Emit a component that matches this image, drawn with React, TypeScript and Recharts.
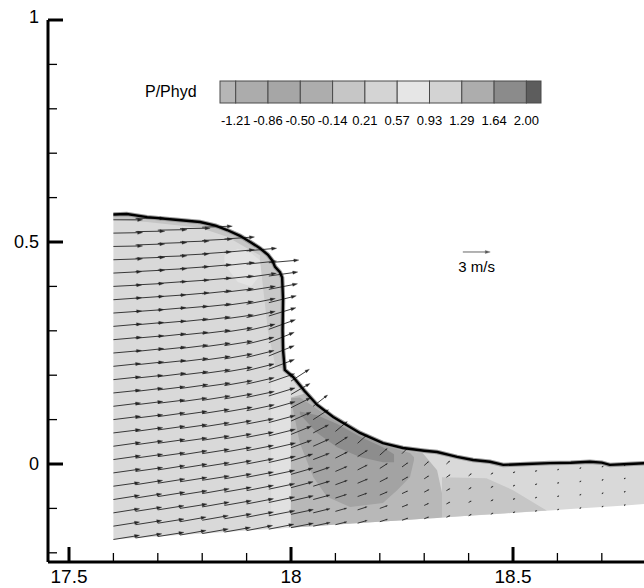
import React from 'react';
import { ComposedChart, Area, Line, XAxis, YAxis, ReferenceLine } from 'recharts';

const W = 644;
const H = 588;
const FONT = 'Liberation Sans, Arial, Helvetica, sans-serif';

// ---------- axes ----------
const X_DOMAIN: [number, number] = [17.4527, 18.795];
const Y_DOMAIN: [number, number] = [-0.2207, 1.0];
const X_TICKS = [17.5, 17.6, 17.7, 17.8, 17.9, 18.0, 18.1, 18.2, 18.3, 18.4, 18.5, 18.6, 18.7];
const Y_TICKS = [-0.2, -0.1, 0, 0.1, 0.2, 0.3, 0.4, 0.5, 0.6, 0.7, 0.8, 0.9, 1.0];

// ---------- legend (P/Phyd levels) ----------
const LEGEND_TITLE = 'P/Phyd';
const LEVELS = ['-1.21', '-0.86', '-0.50', '-0.14', '0.21', '0.57', '0.93', '1.29', '1.64', '2.00'];
const LEVEL_COLORS = ['#b6b6b6', '#acacac', '#a6a6a6', '#adadad', '#c6c6c6', '#d4d4d4', '#e6e6e6', '#d3d3d3', '#adadad', '#8b8b8b', '#5d5d5d'];

// ---------- geometry ----------
const BED = [[17.6, -0.17], [18.8, -0.09]];
const SURFACE = [
  [17.6, 0.562], [17.63, 0.563], [17.676, 0.556], [17.74, 0.55], [17.795, 0.545], [17.83, 0.537],
  [17.856, 0.527], [17.885, 0.514], [17.908, 0.5], [17.93, 0.486], [17.948, 0.471], [17.958, 0.458],
  [17.964, 0.444], [17.975, 0.432], [17.98, 0.42], [17.982, 0.37], [17.981, 0.3], [17.982, 0.257],
  [17.986, 0.212], [18.005, 0.196], [18.03, 0.165], [18.059, 0.133], [18.095, 0.106], [18.155, 0.07],
  [18.207, 0.047], [18.252, 0.036], [18.3, 0.03], [18.329, 0.027], [18.358, 0.02], [18.374, 0.016],
  [18.41, 0.009], [18.448, 0.005], [18.478, -0.002], [18.53, 0.0], [18.583, 0.002], [18.63, 0.003],
  [18.673, 0.005], [18.7, 0.003], [18.718, -0.002], [18.76, 0.0], [18.8, 0.002],
];

// contour bands: [x, lower, upper]
const LIGHT_STRIP = [[17.955, -0.1463, 0.19], [17.998, -0.1435, 0.2]];
const LIGHT_PATCH = [[17.85, 0.45, 0.47], [17.88, 0.41, 0.485], [17.91, 0.4, 0.475], [17.935, 0.43, 0.455]];
const TOP_BAND = [[17.6, 0.55, 0.562], [17.676, 0.545, 0.556], [17.795, 0.532, 0.545], [17.856, 0.512, 0.527], [17.908, 0.482, 0.5], [17.93, 0.47, 0.486]];
const WALL_BAND = [[17.93, 0.46, 0.486], [17.948, 0.3, 0.471], [17.965, 0.22, 0.444], [17.98, 0.215, 0.42]];
const MID_ZONE = [
  [18.0, -0.1433, 0.15], [18.03, -0.1413, 0.158], [18.059, -0.1394, 0.127], [18.095, -0.137, 0.1],
  [18.155, -0.133, 0.065], [18.207, -0.1295, 0.042], [18.252, -0.1265, 0.031], [18.297, -0.1235, 0.024],
  [18.329, -0.1214, -0.014], [18.34, -0.1207, -0.065],
];
const LOWER_RIGHT = [[18.34, -0.1207, -0.03], [18.44, -0.114, -0.032], [18.5, -0.11, -0.059], [18.576, -0.1049, -0.1049]];
const DARK_ZONE = [
  [18.0, 0.145, 0.148], [18.02, 0.047, 0.15], [18.05, -0.029, 0.13], [18.081, -0.074, 0.108],
  [18.133, -0.097, 0.077], [18.207, -0.088, 0.042], [18.239, -0.059, 0.033], [18.268, -0.029, 0.025],
  [18.277, 0.009, 0.015],
];
const DARKEST_BAND = [[18.02, 0.112, 0.118], [18.059, 0.07, 0.11], [18.104, 0.038, 0.09], [18.155, 0.016, 0.062], [18.207, 0.004, 0.038], [18.232, 0.004, 0.022]];

// ---------- velocity field (mesh columns, rows parallel to the bed) ----------
const ROW_DY = 0.03;
const VEC_SCALE = 0.0206; // data units per m/s
const COLS_X = [17.6, 17.65, 17.7, 17.75, 17.8, 17.85, 17.9, 17.95, 18.0, 18.05, 18.1, 18.15, 18.2, 18.25, 18.3, 18.35, 18.4, 18.45, 18.5, 18.55, 18.6, 18.65, 18.7, 18.75];
const SPEED = [
  [2.9, 2.9, 2.9, 2.9, 2.9, 3.0, 3.0, 3.0, 3.0, 3.0, 3.0, 3.0, 3.0, 3.0, 3.1, 3.1, 3.1, 3.1, 3.1, 3.1, 3.1, 3.2, 3.2, 3.2, 3.2],
  [2.9, 2.9, 2.9, 2.9, 3.0, 3.0, 3.0, 3.0, 3.0, 3.0, 3.0, 3.0, 3.0, 3.1, 3.1, 3.1, 3.1, 3.1, 3.1, 3.1, 3.2, 3.2, 3.2, 3.2, 3.2],
  [2.9, 2.9, 2.9, 3.0, 3.0, 3.0, 3.0, 3.0, 3.0, 3.0, 3.0, 3.0, 3.1, 3.1, 3.1, 3.1, 3.1, 3.1, 3.1, 3.2, 3.2, 3.2, 3.2, 3.2],
  [2.9, 2.9, 3.0, 3.0, 3.0, 3.0, 3.0, 3.0, 3.0, 3.0, 3.0, 3.1, 3.1, 3.1, 3.1, 3.1, 3.1, 3.1, 3.2, 3.2, 3.2, 3.2, 3.2, 3.3],
  [2.9, 2.9, 3.0, 3.0, 3.0, 3.0, 3.0, 3.0, 3.0, 3.0, 3.1, 3.1, 3.1, 3.1, 3.1, 3.1, 3.1, 3.2, 3.2, 3.2, 3.2, 3.2, 3.3, 3.3],
  [2.9, 3.0, 3.0, 3.0, 3.0, 3.0, 3.0, 3.0, 3.0, 3.1, 3.1, 3.1, 3.1, 3.1, 3.1, 3.1, 3.2, 3.2, 3.2, 3.2, 3.3, 3.3, 3.3],
  [2.9, 3.0, 3.0, 3.0, 3.0, 3.0, 3.0, 3.0, 3.0, 3.1, 3.1, 3.1, 3.1, 3.1, 3.1, 3.2, 3.2, 3.2, 3.2, 3.3, 3.3, 3.3],
  [2.8, 2.9, 2.9, 2.9, 2.9, 3.0, 3.0, 3.0, 3.0, 3.0, 3.0, 3.0, 3.0, 3.0, 3.0, 3.1, 3.1, 3.1, 3.2, 3.2, 3.3],
  [2.5, 2.5, 2.5, 2.5, 2.5, 2.5, 2.4, 2.4, 2.4, 2.4, 2.4, 2.4],
  [1.9, 1.9, 1.9, 1.9, 1.9, 1.9, 1.9, 1.9, 2.0, 2.0],
  [1.3, 1.3, 1.3, 1.4, 1.4, 1.5, 1.6, 1.7],
  [1.1, 1.1, 1.1, 1.2, 1.2, 1.3, 1.4],
  [0.9, 0.9, 0.9, 1.0, 1.0, 1.1],
  [0.7, 0.7, 0.7, 0.75, 0.8, 0.85],
  [0.55, 0.55, 0.6, 0.6, 0.65],
  [0.45, 0.45, 0.45, 0.5, 0.5],
  [0.35, 0.35, 0.35, 0.4],
  [0.3, 0.3, 0.3, 0.3],
  [0.25, 0.25, 0.25, 0.25],
  [0.22, 0.22, 0.22, 0.22],
  [0.2, 0.2, 0.2, 0.2],
  [0.2, 0.2, 0.2, 0.2],
  [0.2, 0.2, 0.2, 0.2],
  [0.2, 0.2, 0.2, 0.2],
];
const ANGLE = [
  [9, 9, 9, 9, 8, 8, 8, 8, 7, 7, 7, 6, 6, 6, 5, 5, 5, 4, 4, 3, 3, 2, 1, 1, 0],
  [9, 9, 9, 9, 9, 8, 8, 8, 8, 7, 7, 7, 6, 6, 6, 5, 5, 4, 4, 3, 3, 2, 2, 1, 0],
  [9, 9, 9, 9, 9, 9, 8, 8, 8, 8, 7, 7, 7, 6, 6, 6, 5, 5, 4, 4, 3, 2, 2, 1],
  [10, 10, 9, 9, 9, 9, 9, 8, 8, 8, 8, 8, 7, 7, 7, 6, 6, 5, 5, 4, 4, 3, 2, 1],
  [10, 10, 10, 10, 9, 9, 9, 9, 9, 9, 9, 8, 8, 8, 8, 7, 7, 6, 6, 5, 5, 4, 3, 2],
  [10, 10, 10, 10, 10, 10, 10, 10, 10, 10, 10, 10, 10, 10, 9, 9, 8, 8, 7, 6, 6, 5, 4],
  [11, 11, 11, 11, 11, 11, 11, 11, 11, 12, 12, 13, 14, 14, 14, 13, 12, 11, 9, 8, 6, 5],
  [11, 11, 12, 12, 12, 13, 13, 14, 15, 16, 17, 19, 21, 22, 22, 20, 17, 14, 11, 8, 5],
  [11, 12, 13, 15, 16, 18, 20, 22, 24, 27, 30, 33],
  [12, 14, 15, 17, 19, 21, 24, 28, 33, 38],
  [14, 16, 18, 20, 23, 27, 33, 40],
  [16, 18, 20, 23, 27, 33, 42],
  [18, 20, 23, 27, 33, 42],
  [20, 22, 25, 30, 36, 45],
  [22, 25, 28, 33, 42],
  [25, 28, 30, 35, 42],
  [28, 30, 33, 38],
  [30, 30, 33, 35],
  [30, 30, 30, 30],
  [28, 28, 28, 28],
  [25, 25, 25, 25],
  [25, 25, 25, 25],
  [25, 25, 25, 25],
  [25, 25, 25, 25],
];
const REF_VECTOR = { x: 18.387, y: 0.4775, speed: 3, label: '3 m/s' };

// ---------- derived data ----------
const bedAt = (x: number) => BED[0][1] + ((BED[1][1] - BED[0][1]) * (x - BED[0][0])) / (BED[1][0] - BED[0][0]);
const surfaceData = SURFACE.map(([x, y]) => ({ x, y }));
const waterData = SURFACE.map(([x, y]) => ({ x, r: [bedAt(x), y] }));
const band = (rows: number[][]) => rows.map(([x, lo, hi]) => ({ x, r: [lo, hi] }));

const REGIONS = [
  { id: 'water', data: waterData, color: '#d9d9d9' },
  { id: 'lstrip', data: band(LIGHT_STRIP), color: '#e1e1e1' },
  { id: 'lpatch', data: band(LIGHT_PATCH), color: '#e3e3e3' },
  { id: 'top', data: band(TOP_BAND), color: '#c5c5c5' },
  { id: 'wall', data: band(WALL_BAND), color: '#c9c9c9' },
  { id: 'mid', data: band(MID_ZONE), color: '#b8b8b8' },
  { id: 'lowr', data: band(LOWER_RIGHT), color: '#c6c6c6' },
  { id: 'dark', data: band(DARK_ZONE), color: '#a3a3a3' },
  { id: 'darkest', data: band(DARKEST_BAND), color: '#8d8d8d' },
];

type Vec = { x0: number; y0: number; x1: number; y1: number };
const VECTORS: Vec[] = [];
COLS_X.forEach((x0, j) => {
  SPEED[j].forEach((s, k) => {
    const a = (ANGLE[j][k] * Math.PI) / 180;
    const y0 = bedAt(x0) + k * ROW_DY;
    VECTORS.push({ x0, y0, x1: x0 + s * Math.cos(a) * VEC_SCALE, y1: y0 + s * Math.sin(a) * VEC_SCALE });
  });
});

// ---------- renderers ----------
const fmt = (v: number) => String(Number(v.toFixed(2)));
const isMajor = (v: number) => Math.abs(v * 2 - Math.round(v * 2)) < 1e-6;

function XTick(props: any) {
  const { x, y, payload } = props;
  const v = payload.value;
  const major = isMajor(v);
  return (
    <g>
      <line x1={x} x2={x} y1={y} y2={y - (major ? 15 : 9)} stroke="#000" strokeWidth={major ? 3 : 1.3} />
      {major && (
        <text x={x} y={y + 21} textAnchor="middle" fontSize={19} fill="#000" fontFamily={FONT}>
          {fmt(v)}
        </text>
      )}
    </g>
  );
}

function YTick(props: any) {
  const { x, y, payload } = props;
  const v = payload.value;
  const major = isMajor(v);
  return (
    <g>
      <line x1={x} x2={x + (major ? 15 : 9)} y1={y} y2={y} stroke="#000" strokeWidth={major ? 3 : 1.3} />
      {major && (
        <text x={x - 9} y={v >= 1 ? y + 3 : y + 6} textAnchor="end" fontSize={18} fill="#000" fontFamily={FONT}>
          {fmt(v)}
        </text>
      )}
    </g>
  );
}

function arrowPath(x1: number, y1: number, x2: number, y2: number, color: string) {
  const dx = x2 - x1;
  const dy = y2 - y1;
  const len = Math.hypot(dx, dy);
  if (!isFinite(len) || len < 0.05) return <g />;
  const ux = dx / len;
  const uy = dy / len;
  const h = Math.max(1.3, Math.min(5, 0.2 * len));
  const w = h * 0.32;
  const bx = x2 - ux * h;
  const by = y2 - uy * h;
  const pts = `${x2},${y2} ${bx - uy * w},${by + ux * w} ${bx + uy * w},${by - ux * w}`;
  return (
    <g>
      <line x1={x1} y1={y1} x2={bx + ux * 0.5} y2={by + uy * 0.5} stroke={color} strokeWidth={0.9} />
      <polygon points={pts} fill={color} stroke={color} strokeWidth={0.3} />
    </g>
  );
}

const ArrowShape = (p: any) => arrowPath(p.x1, p.y1, p.x2, p.y2, '#262626');
const RefArrowShape = (p: any) => (
  <g>
    {arrowPath(p.x1, p.y1, p.x2, p.y2, '#555')}
    <text x={(p.x1 + p.x2) / 2} y={p.y1 + 20} textAnchor="middle" fontSize={15} fill="#000" fontFamily={FONT}>
      {REF_VECTOR.label}
    </text>
  </g>
);

function LegendBar() {
  const first = 220;
  const b0 = 235.7;
  const step = 32.3;
  const edges = [first, ...LEVELS.map((_, i) => b0 + step * i), 541];
  return (
    <svg width={W} height={H} style={{ position: 'absolute', left: 0, top: 0, pointerEvents: 'none' }}>
      <text x={145} y={97} fontSize={16} fill="#000" fontFamily={FONT}>
        {LEGEND_TITLE}
      </text>
      {LEVEL_COLORS.map((c, i) => (
        <rect key={i} x={edges[i]} y={81} width={edges[i + 1] - edges[i]} height={22} fill={c} stroke="#4a4a4a" strokeWidth={1} />
      ))}
      {LEVELS.map((l, i) => (
        <text key={l} x={b0 + step * i} y={125} textAnchor="middle" fontSize={13} fill="#000" fontFamily={FONT}>
          {l}
        </text>
      ))}
    </svg>
  );
}

export default function App() {
  return (
    <div style={{ position: 'absolute', left: 0, top: 0, width: W, height: H, background: '#fff', overflow: 'hidden' }}>
      <ComposedChart width={W} height={H} margin={{ top: 20, right: 0, bottom: 0, left: 0 }}>
        <XAxis
          type="number"
          dataKey="x"
          domain={X_DOMAIN}
          allowDataOverflow
          ticks={X_TICKS}
          interval={0}
          tickSize={0}
          tickMargin={0}
          height={26}
          axisLine={{ stroke: '#000', strokeWidth: 3 }}
          tickLine={false}
          tick={(p: any) => <XTick {...p} />}
        />
        <YAxis
          type="number"
          domain={Y_DOMAIN}
          allowDataOverflow
          ticks={Y_TICKS}
          interval={0}
          tickSize={0}
          tickMargin={0}
          width={48}
          axisLine={{ stroke: '#000', strokeWidth: 3 }}
          tickLine={false}
          tick={(p: any) => <YTick {...p} />}
        />
        {REGIONS.map((r) => (
          <Area
            key={r.id}
            data={r.data}
            dataKey="r"
            type="linear"
            stroke="none"
            fill={r.color}
            fillOpacity={1}
            dot={false}
            activeDot={false}
            isAnimationActive={false}
          />
        ))}
        <Line data={surfaceData} dataKey="y" type="linear" stroke="#9a9a9a" strokeWidth={4.5} dot={false} activeDot={false} isAnimationActive={false} />
        {VECTORS.map((v, i) => (
          <ReferenceLine
            key={`v${i}`}
            segment={[{ x: v.x0, y: v.y0 }, { x: v.x1, y: v.y1 }]}
            ifOverflow="visible"
            shape={ArrowShape}
          />
        ))}
        <Line data={surfaceData} dataKey="y" type="linear" stroke="#000" strokeWidth={2.4} dot={false} activeDot={false} isAnimationActive={false} />
        <ReferenceLine
          segment={[
            { x: REF_VECTOR.x, y: REF_VECTOR.y },
            { x: REF_VECTOR.x + REF_VECTOR.speed * VEC_SCALE, y: REF_VECTOR.y },
          ]}
          ifOverflow="visible"
          shape={RefArrowShape}
        />
      </ComposedChart>
      <LegendBar />
    </div>
  );
}
